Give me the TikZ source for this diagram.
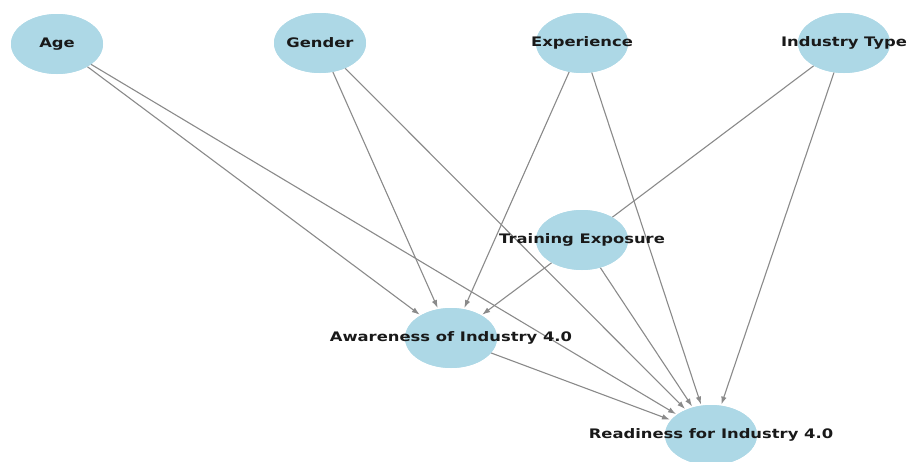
\documentclass[tikz,border=0pt]{standalone}
\usepackage{fontspec}
\newfontfamily\labfont{DejaVu Sans}[FakeStretch=1.25]
\usetikzlibrary{shapes.geometric,arrows.meta}
\definecolor{nodeblue}{HTML}{ADD8E6}
\definecolor{edgegray}{HTML}{8A8A8A}
\tikzset{
  vnode/.style={ellipse, fill=nodeblue, draw=none, minimum width=92pt, minimum height=60pt, inner sep=0pt},
  vlabel/.style={font=\labfont\bfseries\fontsize{13.1}{14}\selectfont, text=black!90, inner sep=0pt},
  edge/.style={draw=edgegray, line width=1.1pt, -{Latex[length=8pt,width=5.5pt]}, shorten >=1pt},
  plainedge/.style={draw=edgegray, line width=1.1pt}
}
\begin{document}
\begin{tikzpicture}[x=1pt,y=-1pt]
\useasboundingbox (0,0) rectangle (907,461);
% nodes (shapes)
\node[vnode] (age) at (57,44) {};
\node[vnode] (gen) at (320,43) {};
\node[vnode] (exp) at (582,43) {};
\node[vnode] (ind) at (844,43) {};
\node[vnode] (tra) at (582,240) {};
\node[vnode] (awa) at (451,338) {};
\node[vnode] (rea) at (711,435) {};
% edges
\draw[edge] (age) -- (awa);
\draw[edge] (age) -- (rea);
\draw[edge] (gen) -- (awa);
\draw[edge] (gen) -- (rea);
\draw[edge] (exp) -- (awa);
\draw[edge] (exp) -- (rea);
\draw[plainedge] (ind) -- (tra);
\draw[edge] (ind) -- (rea);
\draw[edge] (tra) -- (awa);
\draw[edge] (tra) -- (rea);
\draw[edge] (awa) -- (rea);
% redraw fills on top of lines
\foreach \n in {age,gen,exp,ind,tra,awa,rea} {
  \fill[nodeblue] (\n.center) ellipse [x radius=46pt, y radius=30pt];
}
% labels
\node[vlabel] (tage) at (age) {Age};
\node[vlabel] (tgen) at (gen) {Gender};
\node[vlabel] (texp) at (exp) {Experience};
\node[vlabel] (tind) at (ind) {Industry Type};
\node[vlabel] (ttra) at (tra) {Training Exposure};
\node[vlabel] (tawa) at (awa) {Awareness of Industry 4.0};
\node[vlabel] (trea) at (rea) {Readiness for Industry 4.0};
\end{tikzpicture}
\end{document}
